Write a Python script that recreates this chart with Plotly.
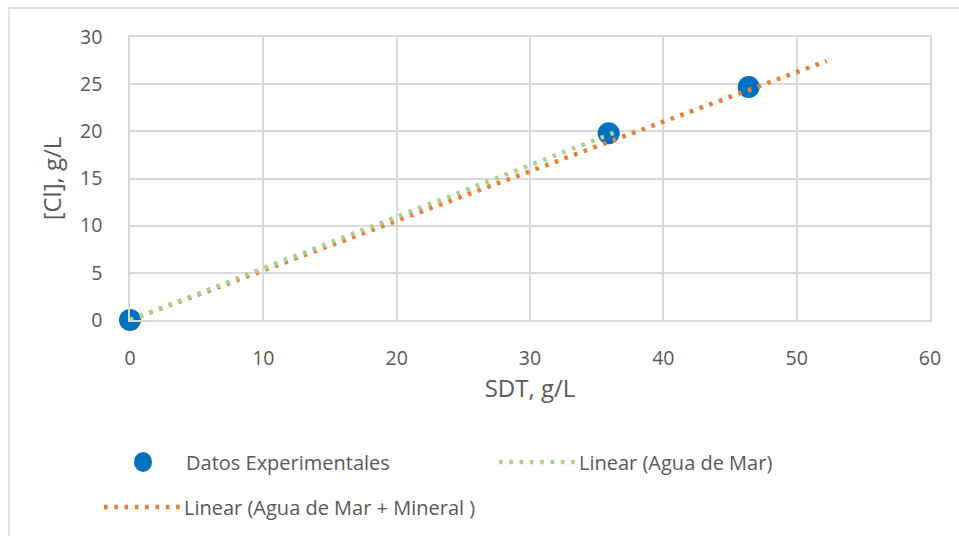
import plotly.graph_objects as go

# Experimental measurements: total dissolved solids vs chloride
sdt = [0.0, 35.9, 46.4]
cloruro = [0.0, 19.8, 24.7]

# Linear trendlines (slope through origin, x extent of each fit)
tendencia_mar = {"pendiente": 0.547, "x_ini": 0.0, "x_fin": 36.7}
tendencia_mineral = {"pendiente": 0.5255, "x_ini": 0.0, "x_fin": 52.25}

x_ticks = [0, 10, 20, 30, 40, 50, 60]
y_ticks = [0, 5, 10, 15, 20, 25, 30]

AZUL = "#0070c0"
VERDE = "#a9d18e"
NARANJA = "#ed7d31"
GRIS = "#d9d9d9"
TEXTO = "#595959"
FUENTE = "Open Sans"
PUNTEADO = "3.6px,6.7px"

W, H = 959, 536
L, R, T, B = 130, 29, 37, 216
PW, PH = W - L - R, H - T - B


def px(xp):
    return (xp - L) / PW


def py(yp):
    return (H - B - yp) / PH


def linea(t):
    xs = [t["x_ini"], t["x_fin"]]
    return xs, [t["pendiente"] * v for v in xs]


def traza_tendencia(t, color):
    xs, ys = linea(t)
    return go.Scatter(x=xs, y=ys, mode="lines",
                      line=dict(color=color, width=4.5, dash=PUNTEADO),
                      showlegend=False, hoverinfo="skip", cliponaxis=False)


fig = go.Figure()
fig.add_trace(go.Scatter(x=sdt, y=cloruro, mode="markers",
                         marker=dict(color=AZUL, size=22, line=dict(width=0)),
                         showlegend=False, cliponaxis=False))
# trendlines drawn over the markers
fig.add_trace(traza_tendencia(tendencia_mineral, NARANJA))
fig.add_trace(traza_tendencia(tendencia_mar, VERDE))

shapes = [
    # chart area frame
    dict(type="rect", xref="paper", yref="paper",
         x0=px(9), x1=px(965), y0=py(545), y1=py(8),
         line=dict(color=GRIS, width=1.3), fillcolor="rgba(0,0,0,0)", layer="below"),
    # legend: marker sample
    dict(type="circle", xref="paper", yref="paper",
         xsizemode="pixel", ysizemode="pixel",
         xanchor=px(143), yanchor=py(462),
         x0=-9, x1=9, y0=-10, y1=10,
         fillcolor=AZUL, line=dict(width=0)),
    # legend: line samples
    dict(type="line", xref="paper", yref="paper",
         x0=px(499), x1=px(577), y0=py(462), y1=py(462),
         line=dict(color=VERDE, width=4.5, dash=PUNTEADO)),
    dict(type="line", xref="paper", yref="paper",
         x0=px(104), x1=px(182), y0=py(507), y1=py(507),
         line=dict(color=NARANJA, width=4.5, dash=PUNTEADO)),
]

leyenda = [
    (184, 462, "Datos Experimentales"),
    (577, 462, "Linear (Agua de Mar)"),
    (182, 507, "Linear (Agua de Mar + Mineral )"),
]
annotations = [
    dict(x=px(xp), y=py(yp), xref="paper", yref="paper", text=txt,
         showarrow=False, xanchor="left", yanchor="middle",
         font=dict(family=FUENTE, size=20, color=TEXTO))
    for xp, yp, txt in leyenda
]

fig.update_layout(
    width=W, height=H,
    margin=dict(l=L, r=R, t=T, b=B),
    paper_bgcolor="white", plot_bgcolor="white",
    shapes=shapes, annotations=annotations,
    showlegend=False,
    font=dict(family=FUENTE, size=20, color=TEXTO),
)

fig.update_xaxes(
    range=[0, 60], tickvals=x_ticks, ticktext=[str(v) for v in x_ticks],
    showgrid=True, gridcolor=GRIS, gridwidth=1.5,
    showline=True, linecolor=GRIS, linewidth=1.5, mirror=True,
    zeroline=False, ticks="outside", ticklen=20, tickcolor="rgba(0,0,0,0)",
    tickfont=dict(family=FUENTE, size=19.5, color=TEXTO),
    title=dict(text="SDT, g/L", standoff=8,
               font=dict(family=FUENTE, size=24, color=TEXTO)),
)
fig.update_yaxes(
    range=[0, 30], tickvals=y_ticks, ticktext=[str(v) for v in y_ticks],
    showgrid=True, gridcolor=GRIS, gridwidth=1.5,
    showline=True, linecolor=GRIS, linewidth=1.5, mirror=True,
    zeroline=False, ticks="outside", ticklen=22, tickcolor="rgba(0,0,0,0)",
    tickfont=dict(family=FUENTE, size=19.5, color=TEXTO),
    title=dict(text="[Cl], g/L", standoff=12,
               font=dict(family=FUENTE, size=24, color=TEXTO)),
)

fig.write_html("out.html")
